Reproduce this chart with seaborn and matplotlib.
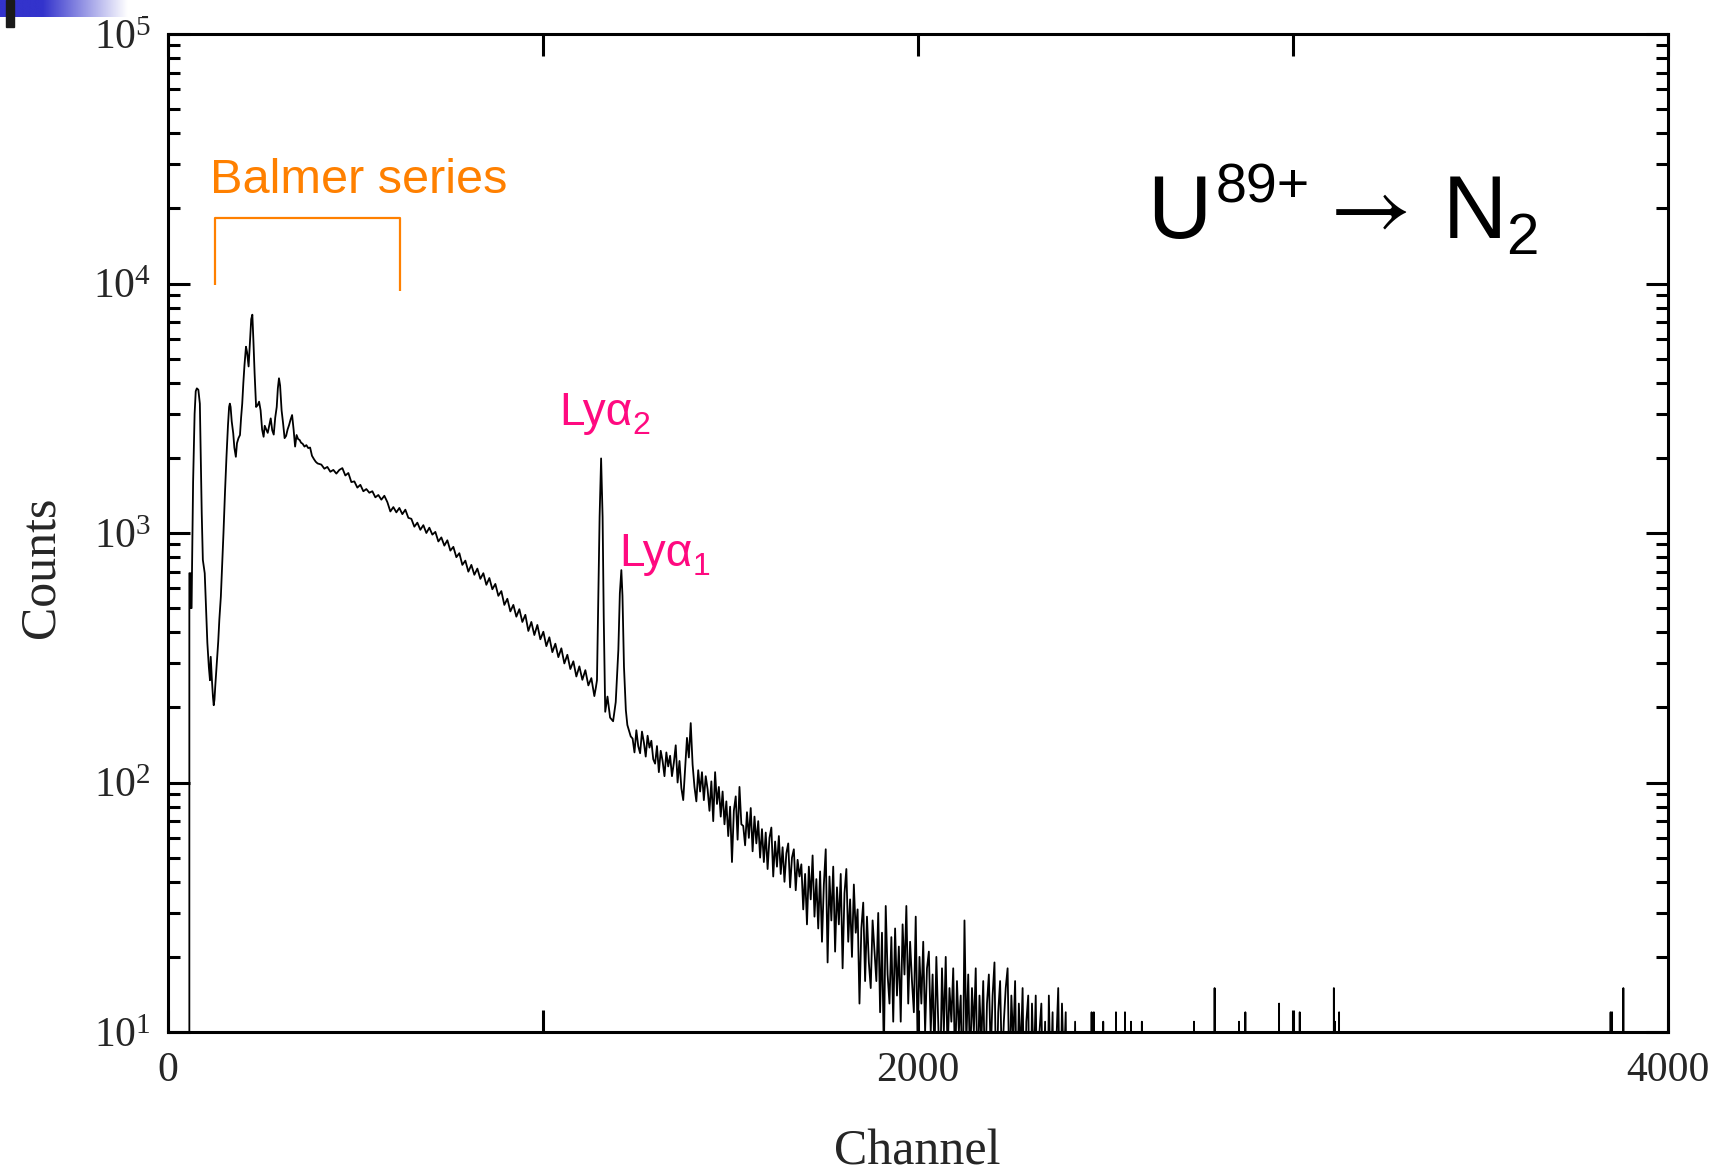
import numpy as np
import pandas as pd
import matplotlib
matplotlib.use("Agg")
import matplotlib.pyplot as plt
import seaborn as sns
from matplotlib.ticker import FixedLocator, FixedFormatter, LogLocator, NullLocator, NullFormatter
from matplotlib.patches import Rectangle
from matplotlib.transforms import offset_copy

# ---------------- data ----------------
# low-channel structure (Balmer region)
low_channels = [0, 40, 57, 58, 61, 62, 64, 65, 68, 72, 75, 78, 82, 86, 88, 91, 94, 99, 103, 106,
                110, 113, 115, 118, 121, 123, 125, 127, 131, 135, 138, 142, 146, 149, 153, 157,
                161, 164, 166, 168, 171, 175, 178, 182, 185, 189, 193, 196, 199, 202, 205, 209,
                212, 216, 220, 223, 226, 229, 232, 236, 240, 244, 248, 252, 256, 259, 263, 267,
                271, 275, 279, 283, 287, 291, 294, 297, 300, 304, 308, 312, 316, 320, 324, 328,
                332, 336, 340, 344, 348, 352, 356, 360, 365, 370, 375, 380, 385, 390, 395, 400]
low_counts = [0, 0, 0, 690, 690, 500, 500, 690, 1600, 3000, 3700, 3800, 3750, 3300, 2150, 1200,
              780, 690, 480, 363, 290, 257, 319, 260, 220, 204, 215, 242, 300, 367, 450, 556, 780,
              1000, 1450, 2020, 2700, 3200, 3300, 3200, 2800, 2510, 2200, 2020, 2290, 2400, 2470,
              2900, 3300, 4000, 4700, 5580, 5300, 4650, 6000, 7200, 7500, 5800, 4370, 3200, 3250,
              3360, 3100, 2600, 2430, 2690, 2600, 2520, 2700, 2880, 2580, 2480, 2900, 3200, 3800,
              4170, 3900, 3100, 2750, 2400, 2450, 2600, 2710, 2850, 2970, 2600, 2220, 2470, 2380,
              2360, 2300, 2280, 2220, 2250, 2190, 2200, 2040, 1980, 1930, 1900]

# continuum 410-1138 (every 8 channels)
mid_channels = list(range(410, 1139, 8))
mid_counts = [1880, 1810, 1840, 1760, 1790, 1730, 1790, 1820, 1700, 1740, 1600, 1610, 1520, 1560,
              1470, 1500, 1450, 1470, 1390, 1420, 1360, 1410, 1330, 1220, 1270, 1210, 1260, 1190,
              1240, 1150, 1140, 1060, 1100, 1030, 1075, 1000, 1050, 985, 1010, 925, 960, 890, 935,
              850, 880, 800, 830, 745, 775, 700, 745, 680, 720, 655, 690, 620, 660, 595, 625, 560,
              585, 515, 545, 485, 515, 462, 495, 440, 470, 405, 440, 390, 428, 375, 402, 352, 382,
              333, 360, 318, 345, 300, 325, 285, 306, 266, 292, 258, 282, 245, 262, 222]

# Lyman-alpha lines
ly_channels = [1142, 1145, 1149, 1152, 1156, 1160, 1163, 1167, 1173, 1180, 1188, 1195, 1202,
               1206, 1210, 1213, 1217, 1222, 1226, 1230, 1235]
ly_counts = [240, 257, 629, 1160, 1990, 1160, 462, 192, 221, 182, 176, 210, 340, 573, 710, 560,
             291, 195, 170, 162, 153]

# noisy tail 1240-2435 (every 5 channels)
tail_channels = list(range(1240, 2440, 5))
tail_counts = [
    150, 132, 162, 140, 131, 160, 145, 127, 154, 138,
    147, 124, 119, 140, 110, 134, 122, 106, 132, 116,
    128, 106, 120, 141, 100, 122, 95, 85, 114, 151,
    126, 173, 118, 96, 84, 112, 92, 110, 85, 106,
    94, 77, 101, 70, 110, 82, 96, 73, 92, 68,
    84, 61, 80, 48, 77, 88, 59, 96, 68, 67,
    56, 76, 60, 79, 53, 73, 57, 70, 50, 65,
    48, 63, 45, 60, 66, 42, 58, 46, 61, 43,
    55, 40, 52, 57, 38, 50, 54, 37, 49, 42,
    47, 31, 43, 27, 46, 34, 51, 29, 41, 26,
    44, 23, 39, 54, 19, 42, 28, 46, 21, 38,
    27, 43, 18, 36, 45, 23, 34, 20, 39, 25,
    31, 13, 26, 33, 16, 29, 19, 15, 28, 21,
    16, 30, 12, 25, 8, 32, 17, 13, 24, 11,
    26, 14, 22, 11, 27, 17, 32, 13, 23, 16,
    12, 29, 9, 20, 13, 23, 10, 18, 21, 10,
    17, 8, 20, 11, 6, 18, 10, 20, 8, 15,
    11, 18, 7, 16, 10, 14, 5, 28, 9, 17,
    7, 15, 10, 18, 6, 14, 9, 16, 6, 13,
    17, 8, 14, 19, 5, 12, 16, 7, 11, 15,
    18, 6, 14, 9, 16, 5, 13, 8, 15, 4,
    11, 14, 3, 13, 7, 14, 4, 10, 13, 5,
    11, 3, 14, 6, 12, 2, 9, 15, 4, 13,
    7, 12, 2, 10, 5, 3, 11, 2, 4, 1]

# isolated counts at high channels (all other channels empty)
spike_channels = [2464, 2470, 2495, 2529, 2553, 2569, 2598, 2737, 2792, 2857, 2874, 2964,
                  3019, 3110, 3113, 3124, 3848, 3852, 3882]
spike_counts = [12, 12, 11, 12, 12, 11, 11, 11, 15, 11, 12, 13, 12, 15, 11, 12, 12, 12, 15]

# axis ticks
x_ticks = [0, 1000, 2000, 3000, 4000]
x_tick_labels = ["0", "", "2000", "", "4000"]

# annotations
balmer_label = "Balmer series"
bracket_x = [126, 126, 620, 620]
bracket_y = [9860, 18330, 18330, 9290]

# ---------------- assemble the spectrum ----------------
sp_ch, sp_ct = [2440], [0]
for c, v in zip(spike_channels, spike_counts):
    if sp_ch[-1] < c - 1:
        sp_ch.append(c - 1); sp_ct.append(0)
    sp_ch.append(c); sp_ct.append(v)
    sp_ch.append(c + 1); sp_ct.append(0)
sp_ch.append(4000); sp_ct.append(0)

channels = low_channels + mid_channels + ly_channels + tail_channels + sp_ch
counts = low_counts + mid_counts + ly_counts + tail_counts + sp_ct
df = pd.DataFrame({"Channel": channels, "Counts": counts}).drop_duplicates("Channel")

# ---------------- style ----------------
sns.set_style("white")
plt.rcParams["font.family"] = ["Liberation Serif", "DejaVu Serif"]
plt.rcParams["mathtext.fontset"] = "stix"

W, H = 1718, 1174
fig = plt.figure(figsize=(W / 100, H / 100), dpi=100)
ax = fig.add_axes([167.6 / W, 1 - 1032 / H, 1500 / W, 998 / H])

sns.lineplot(data=df, x="Channel", y="Counts", color="black", linewidth=1.3,
             estimator=None, sort=False, ax=ax)
ax.set_yscale("log", nonpositive="clip")
ax.set_xlim(0, 4000)
ax.set_ylim(10, 1e5)

ax.xaxis.set_major_locator(FixedLocator(x_ticks))
ax.xaxis.set_major_formatter(FixedFormatter(x_tick_labels))
ax.xaxis.set_minor_locator(NullLocator())
ax.yaxis.set_major_locator(LogLocator(base=10, numticks=10))
ax.yaxis.set_minor_locator(LogLocator(base=10, subs=np.arange(2, 10), numticks=20))
ax.yaxis.set_minor_formatter(NullFormatter())

ax.tick_params(axis="both", which="major", direction="in", length=16, width=2.2,
               top=True, right=True, bottom=True, left=True, color="black")
ax.tick_params(axis="y", which="minor", direction="in", length=8.5, width=2.2,
               left=True, right=True, color="black")
ax.tick_params(axis="x", labelsize=30, pad=14)
ax.tick_params(axis="y", labelsize=30, pad=12)
for sp in ax.spines.values():
    sp.set_linewidth(2.2)
    sp.set_color("black")
    sp.set_visible(True)

ax.set_xlabel("Channel", fontsize=36, va="top")
ax.xaxis.set_label_coords(0.5, -0.097)
ax.set_ylabel("Counts", fontsize=36)
ax.yaxis.set_label_coords(-0.069, 0.466)

sans = ["Liberation Sans", "DejaVu Sans"]
orange = "#FF8000"
magenta = "#FF0A80"
ax.text(114, 23080, balmer_label, color=orange, fontsize=35, family=sans,
        ha="left", va="baseline")
ax.plot(bracket_x, bracket_y, color=orange, linewidth=1.6, solid_capstyle="butt")

renderer = fig.canvas.get_renderer()


def chain(x, y, pieces, color):
    dx = 0.0
    for txt, size, dy, fam, gap, mf in pieces:
        tr = offset_copy(ax.transData, fig=fig, x=dx, y=dy, units="dots")
        t = ax.text(x, y, txt, fontsize=size, family=fam, color=color, transform=tr,
                    ha="left", va="baseline", math_fontfamily=mf)
        dx += t.get_window_extent(renderer).width + gap


chain(1044, 2710, [("Lyα", 33, 0, sans, 0, "stix"), ("2", 23, -9, sans, 0, "stix")], magenta)
chain(1204, 740, [("Lyα", 33, 0, sans, 0, "stix"), ("1", 23, -9, sans, 0, "stix")], magenta)
chain(2612, 15240, [("U", 64, 0, sans, 4, "stix"),
                    ("89+", 40, 35, sans, 8, "stix"),
                    (r"$\rightarrow$", 64, 4, sans, 34, "stix"),
                    ("N", 64, 0, sans, 0, "stix"),
                    ("2", 42, -16, sans, 0, "stix")], "black")

# slide decoration at top-left corner
deco = fig.add_axes([0, 1 - 17 / H, 142 / W, 17 / H])
grad = np.linspace(0, 1, 256)
alpha_prof = np.clip((grad - 0.3) / 0.6, 0, 1)
img = np.zeros((1, 256, 3))
base = np.array([0.2, 0.2, 0.8])
for i in range(256):
    img[0, i] = base * (1 - alpha_prof[i]) + np.array([1, 1, 1]) * alpha_prof[i]
deco.imshow(img, aspect="auto")
deco.axis("off")
fig.patches.append(Rectangle((6 / W, 1 - 27 / H), 8 / W, 27 / H, transform=fig.transFigure,
                             color="#1a1a1a", zorder=10))

fig.savefig("out.png", dpi=100)
